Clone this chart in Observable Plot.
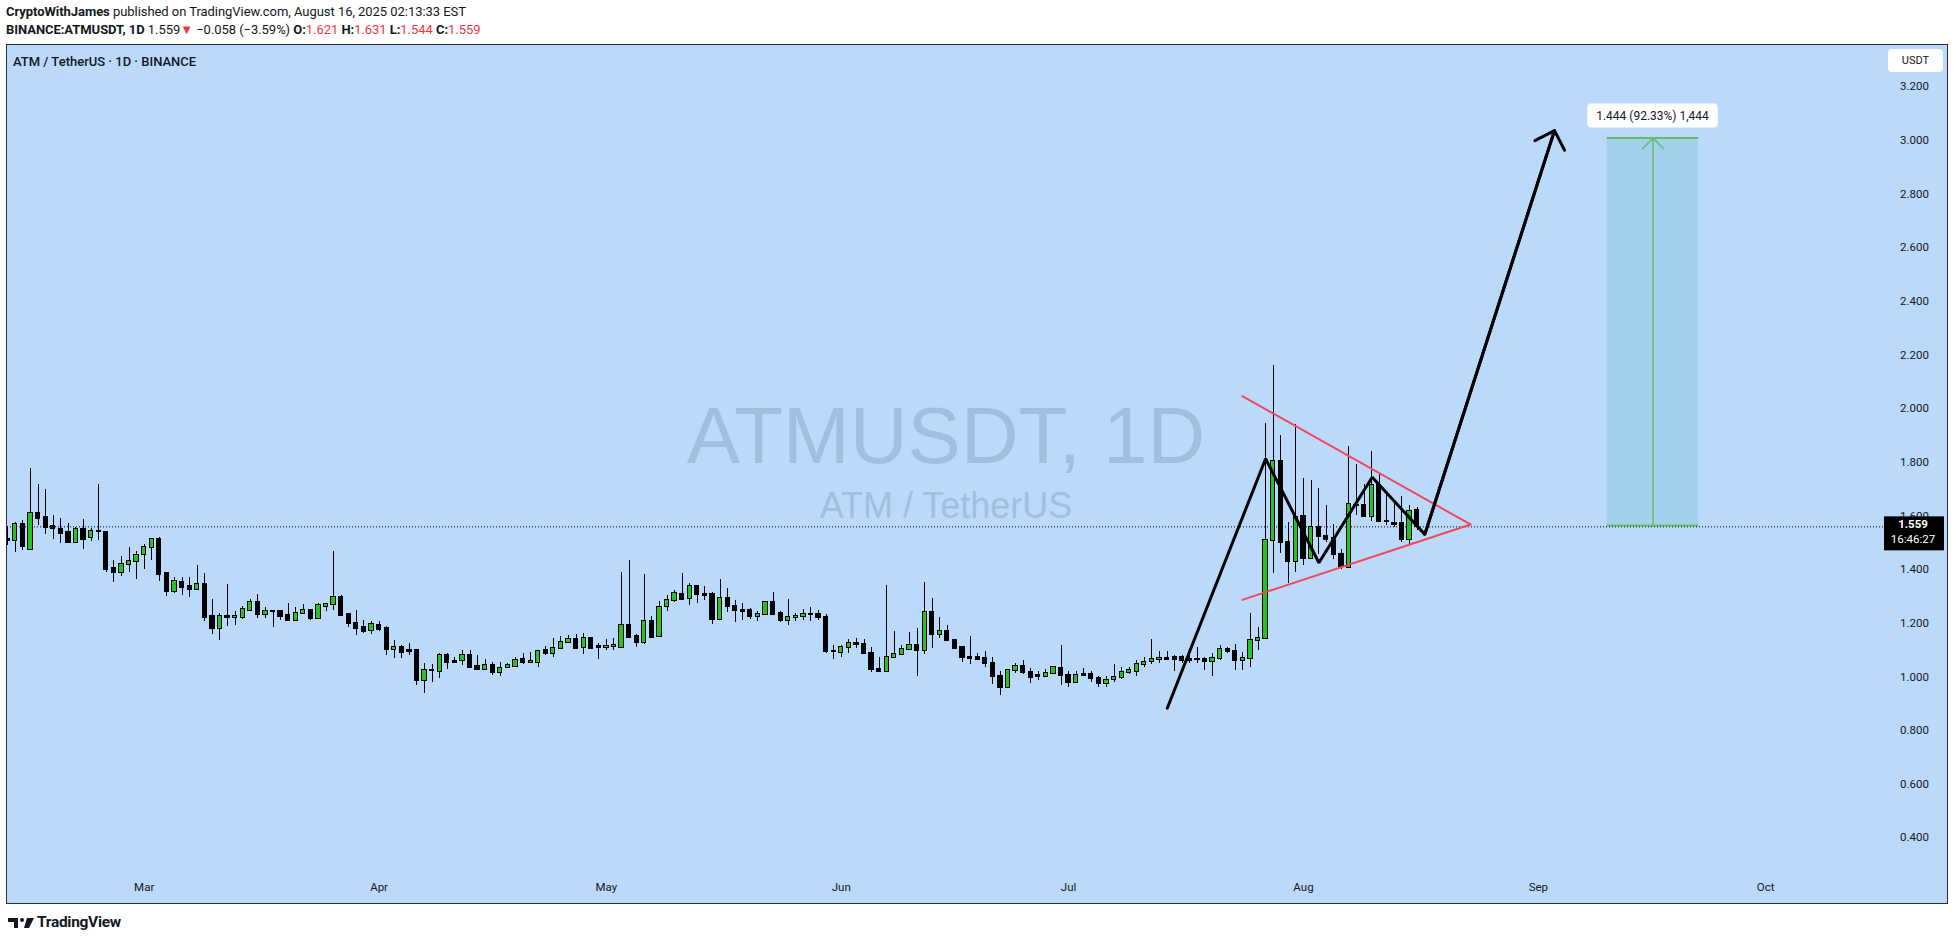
<!DOCTYPE html>
<html><head><meta charset="utf-8">
<script src="https://cdn.jsdelivr.net/npm/d3@7"></script>
<script src="https://cdn.jsdelivr.net/npm/@observablehq/plot@0.6"></script>
<style>
html,body{margin:0;padding:0;background:#fff;width:1957px;height:941px;overflow:hidden;font-family:Roboto,"Noto Sans",sans-serif;color:#131722}
.hdr{position:absolute;left:6px;font-size:13px;line-height:16px;white-space:nowrap;letter-spacing:-0.05px}
#h1{top:4px}
#h2{top:22px}
.red{color:#f23645}
#panel{position:absolute;left:6px;top:44px;width:1940px;height:858px;border:1px solid #2a2e39;background:#bbdafb}
#chart{position:absolute;left:0;top:44px}
#sym{position:absolute;left:13px;top:54px;font-size:13px;font-weight:500;letter-spacing:0px;white-space:nowrap;line-height:15px}
#foot{position:absolute;left:8px;top:914px;height:18px;white-space:nowrap}
#foot span{position:absolute;left:29px;top:-1px;font-size:15.5px;font-weight:700;letter-spacing:-0.3px;color:#131722;line-height:18px}
</style></head>
<body>
<div class="hdr" id="h1"><b>CryptoWithJames</b> published on TradingView.com, August 16, 2025 02:13:33 EST</div>
<div class="hdr" id="h2"><b>BINANCE:ATMUSDT, 1D</b> 1.559<span class="red">▼</span> −0.058 (−3.59%) <b>O:</b><span class="red">1.621</span> <b>H:</b><span class="red">1.631</span> <b>L:</b><span class="red">1.544</span> <b>C:</b><span class="red">1.559</span></div>
<div id="panel"></div>
<div id="chart"></div>
<div id="sym">ATM / TetherUS · 1D · BINANCE</div>
<div id="foot"><svg width="28" height="18" viewBox="0 0 28 18"><path d="M0 4h10v10h-4V8H0z" fill="#131722"/><circle cx="14" cy="6" r="2" fill="#131722"/><path d="M19 4h7l-5 10h-5z" fill="#131722"/></svg><span>TradingView</span></div>
<script>
// ---- Daily candles ATM/USDT, 2025-02-11 .. 2025-08-16 ----
const firstDay = "2025-02-11";
const opens = [1.511,1.507,1.567,1.476,1.608,1.593,1.559,1.548,1.537,1.502,1.548,1.518,1.542,1.538,1.402,1.390,1.418,1.429,1.455,1.481,
1.511,1.384,1.319,1.350,1.337,1.327,1.343,1.224,1.182,1.224,1.222,1.223,1.249,1.276,1.234,1.242,1.242,1.228,1.211,1.235,
1.246,1.219,1.261,1.269,1.295,1.231,1.198,1.183,1.172,1.190,1.179,1.101,1.108,1.097,1.097,0.988,1.022,1.021,1.078,1.056,
1.060,1.078,1.037,1.029,1.041,1.017,1.034,1.040,1.063,1.055,1.052,1.097,1.086,1.104,1.127,1.138,1.111,1.142,1.112,1.111,
1.112,1.111,1.190,1.149,1.127,1.205,1.149,1.261,1.283,1.306,1.291,1.336,1.306,1.306,1.215,1.291,1.261,1.246,1.246,1.224,
1.231,1.276,1.235,1.209,1.222,1.224,1.231,1.231,1.220,1.093,1.090,1.108,1.123,1.119,1.086,1.026,1.019,1.071,1.082,1.101,
1.116,1.097,1.239,1.157,1.168,1.134,1.108,1.071,1.071,1.067,1.049,1.000,0.959,1.022,1.037,1.015,1.004,1.000,1.011,1.030,
1.004,0.978,1.008,1.007,0.993,0.974,0.989,0.996,1.015,1.019,1.045,1.056,1.066,1.067,1.071,1.071,1.064,1.063,1.063,1.056,
1.067,1.101,1.093,1.060,1.067,1.134,1.142,1.507,1.801,1.500,1.429,1.596,1.440,1.555,1.522,1.514,1.455,1.406,1.637,1.637,
1.596,1.712,1.578,1.571,1.570,1.511,1.621];
const highs = [1.560,1.575,1.582,1.775,1.717,1.697,1.600,1.589,1.570,1.558,1.585,1.552,1.717,1.542,1.432,1.449,1.482,1.466,1.492,1.512,
1.518,1.385,1.369,1.369,1.369,1.414,1.384,1.287,1.235,1.343,1.242,1.261,1.287,1.306,1.257,1.246,1.246,1.272,1.257,1.269,
1.250,1.272,1.272,1.466,1.302,1.235,1.246,1.209,1.205,1.205,1.187,1.134,1.116,1.123,1.098,1.049,1.045,1.086,1.086,1.071,
1.097,1.097,1.078,1.064,1.052,1.052,1.049,1.071,1.086,1.090,1.094,1.112,1.142,1.149,1.153,1.157,1.160,1.148,1.123,1.138,
1.142,1.388,1.432,1.157,1.380,1.224,1.280,1.302,1.321,1.384,1.347,1.337,1.336,1.313,1.362,1.328,1.283,1.272,1.253,1.242,
1.280,1.313,1.242,1.287,1.235,1.250,1.257,1.246,1.231,1.116,1.116,1.138,1.142,1.138,1.108,1.071,1.339,1.168,1.116,1.164,
1.179,1.350,1.291,1.220,1.190,1.138,1.112,1.149,1.086,1.093,1.071,1.019,1.026,1.049,1.060,1.030,1.019,1.026,1.037,1.116,
1.019,1.019,1.030,1.019,1.000,1.000,1.045,1.034,1.034,1.060,1.071,1.138,1.093,1.093,1.078,1.078,1.078,1.108,1.071,1.086,
1.116,1.108,1.119,1.090,1.235,1.183,1.943,2.160,1.898,1.574,1.939,1.738,1.731,1.701,1.637,1.567,1.473,1.857,1.790,1.716,
1.839,1.757,1.682,1.645,1.671,1.637,1.631];
const lows = [1.488,1.465,1.472,1.474,1.564,1.531,1.513,1.498,1.498,1.500,1.476,1.506,1.510,1.390,1.353,1.375,1.390,1.364,1.401,1.435,
1.357,1.301,1.312,1.305,1.297,1.323,1.206,1.159,1.137,1.189,1.193,1.215,1.244,1.219,1.219,1.185,1.211,1.210,1.208,1.234,
1.211,1.218,1.245,1.249,1.229,1.185,1.155,1.163,1.159,1.170,1.081,1.070,1.070,1.081,0.969,0.936,0.977,0.995,1.029,1.052,
1.044,1.032,1.028,1.028,1.006,1.003,1.030,1.039,1.047,1.052,1.036,1.078,1.073,1.103,1.123,1.103,1.085,1.106,1.066,1.097,
1.099,1.107,1.142,1.111,1.119,1.145,1.148,1.242,1.276,1.283,1.265,1.272,1.285,1.196,1.214,1.239,1.201,1.209,1.213,1.205,
1.227,1.231,1.201,1.190,1.205,1.209,1.205,1.209,1.086,1.063,1.071,1.086,1.104,1.082,1.017,1.018,1.018,1.070,1.078,1.100,
1.003,1.082,1.104,1.142,1.130,1.103,1.055,1.047,1.060,1.036,0.973,0.932,0.958,1.011,1.007,0.976,0.985,0.996,1.007,0.969,
0.961,0.974,1.003,0.980,0.961,0.961,0.978,0.989,1.007,1.000,1.036,1.045,1.049,1.060,1.019,1.049,1.051,1.049,1.022,1.000,
1.060,1.086,1.025,1.025,1.036,1.097,1.140,1.384,1.459,1.347,1.388,1.414,1.436,1.455,1.500,1.436,1.399,1.404,1.600,1.595,
1.578,1.577,1.563,1.558,1.500,1.488,1.544];
const closes = [1.508,1.567,1.487,1.608,1.592,1.558,1.552,1.536,1.502,1.548,1.513,1.541,1.540,1.401,1.390,1.418,1.429,1.451,1.481,1.511,
1.383,1.319,1.354,1.334,1.327,1.343,1.223,1.182,1.224,1.222,1.224,1.250,1.276,1.234,1.242,1.244,1.226,1.211,1.235,1.246,
1.219,1.265,1.269,1.295,1.230,1.198,1.182,1.170,1.194,1.178,1.103,1.108,1.092,1.095,0.988,1.022,1.024,1.078,1.055,1.054,
1.078,1.036,1.029,1.041,1.017,1.030,1.041,1.060,1.055,1.057,1.093,1.086,1.104,1.127,1.138,1.107,1.142,1.107,1.110,1.113,
1.115,1.190,1.148,1.127,1.205,1.148,1.257,1.283,1.309,1.290,1.336,1.306,1.304,1.215,1.291,1.261,1.246,1.244,1.224,1.231,
1.276,1.234,1.209,1.220,1.224,1.231,1.233,1.220,1.093,1.095,1.108,1.123,1.121,1.086,1.026,1.019,1.071,1.082,1.101,1.116,
1.097,1.239,1.157,1.168,1.134,1.107,1.071,1.069,1.063,1.049,1.000,0.959,1.022,1.037,1.015,0.996,1.002,1.011,1.034,1.004,
0.978,1.004,1.006,0.993,0.974,0.985,0.996,1.015,1.022,1.045,1.052,1.063,1.068,1.065,1.063,1.060,1.062,1.065,1.056,1.067,
1.101,1.093,1.060,1.067,1.134,1.142,1.507,1.801,1.500,1.429,1.595,1.440,1.555,1.522,1.511,1.455,1.410,1.641,1.639,1.596,
1.712,1.578,1.580,1.569,1.511,1.615,1.559];

// axis labels
const priceTicks = [0.4,0.6,0.8,1.0,1.2,1.4,1.6,1.8,2.0,2.2,2.4,2.6,2.8,3.0,3.2];
const monthDates = ["2025-03-01","2025-04-01","2025-05-01","2025-06-01","2025-07-01","2025-08-01","2025-09-01","2025-10-01"];
const monthLabels = ["Mar","Apr","May","Jun","Jul","Aug","Sep","Oct"];
const lastPrice = 1.559;
const countdown = "16:46:27";

// drawings
const triUpper = [{t:"2025-07-23T22:30Z", p:2.046},{t:"2025-08-23T01:00Z", p:1.568}];
const triLower = [{t:"2025-07-23T22:30Z", p:1.287},{t:"2025-08-23T01:00Z", p:1.568}];
const zigzag = [
  {t:"2025-07-14T00:30Z", p:0.883},
  {t:"2025-07-27T00:00Z", p:1.813},
  {t:"2025-08-03T00:45Z", p:1.425},
  {t:"2025-08-10T01:40Z", p:1.744},
  {t:"2025-08-17T00:15Z", p:1.531},
  {t:"2025-09-03T03:00Z", p:3.036}
];
const rangeStart = "2025-09-10T02:10Z", rangeEnd = "2025-09-22T04:05Z", rangeMid = "2025-09-16T03:07Z";
const rangeLow = 1.564, rangeHigh = 3.008;
const rangeText = "1.444 (92.33%) 1,444";

const DAY = 864e5;
const t0 = new Date(firstDay + "T00:00Z");
const candles = opens.map((o, i) => ({date: new Date(+t0 + i * DAY), open: o, high: highs[i], low: lows[i], close: closes[i]}));
const up = candles.filter(d => d.close >= d.open);
const down = candles.filter(d => d.close < d.open);
const T = s => new Date(s);
const half = 0.28 * DAY;

const GREEN = "#22c322", INK = "#131722", RED = "#f44758", RG = "#66bb6a";

const bodyOpts = (fill) => ({
  x1: d => new Date(+d.date - half), x2: d => new Date(+d.date + half),
  y1: "open", y2: "close", fill, stroke: "#000", strokeWidth: 1,
  insetTop: -0.5, insetBottom: -0.5, clip: true, shapeRendering: "crispEdges"
});

const chart = Plot.plot({
  width: 1957, height: 860,
  marginLeft: 7, marginRight: 73, marginTop: 1, marginBottom: 28,
  style: {background: "transparent", fontFamily: "Roboto, sans-serif", fontSize: "11.5px", overflow: "visible"},
  x: {type: "utc", domain: [t0, T("2025-10-01T00:00Z")], range: [7.3, 1765.2], axis: null},
  y: {domain: [0.4, 3.2], range: [793.3, 42.1], axis: null},
  marks: [
    // watermark
    Plot.text(["ATMUSDT, 1D"], {text: d => d, frameAnchor: "middle", dy: -24, fontSize: 80, fontFamily: "'Liberation Sans', Arial, sans-serif", fill: "#a4bfdd"}),
    Plot.text(["ATM / TetherUS"], {text: d => d, frameAnchor: "middle", dy: 45, fontSize: 36, fontFamily: "'Liberation Sans', Arial, sans-serif", fill: "#a4bfdd"}),
    // range measurement
    Plot.rect([0], {x1: () => T(rangeStart), x2: () => T(rangeEnd), y1: () => rangeLow, y2: () => rangeHigh, fill: "#a3d1ec"}),
    Plot.ruleY([rangeLow, rangeHigh], {y: d => d, x1: () => T(rangeStart), x2: () => T(rangeEnd), stroke: RG, strokeWidth: 2}),
    Plot.arrow([0], {x1: () => T(rangeMid), x2: () => T(rangeMid), y1: () => rangeLow, y2: () => rangeHigh, stroke: RG, strokeWidth: 1.5, headAngle: 90, headLength: 15}),
    // price line
    Plot.ruleY([lastPrice], {stroke: "#000", strokeWidth: 1, strokeDasharray: "1 2"}),
    // candles
    Plot.ruleX(candles, {x: "date", y1: "low", y2: "high", stroke: "#000", strokeWidth: 1, clip: true, shapeRendering: "crispEdges"}),
    Plot.rect(up, bodyOpts(GREEN)),
    Plot.rect(down, bodyOpts("#000")),
    // triangle
    Plot.line(triUpper, {x: d => T(d.t), y: "p", stroke: RED, strokeWidth: 2}),
    Plot.line(triLower, {x: d => T(d.t), y: "p", stroke: RED, strokeWidth: 2}),
    // zigzag path with arrow
    Plot.line(zigzag, {x: d => T(d.t), y: "p", stroke: "#000", strokeWidth: 3, strokeLinejoin: "miter"}),
    Plot.arrow([0], {x1: () => T(zigzag[4].t), y1: () => zigzag[4].p, x2: () => T(zigzag[5].t), y2: () => zigzag[5].p, stroke: "#000", strokeWidth: 3, headAngle: 90, headLength: 11}),
    // axes
    Plot.text(priceTicks, {y: d => d, text: d => d.toFixed(3), frameAnchor: "right", dx: 30, textAnchor: "middle", fill: INK}),
    Plot.text(monthDates, {x: d => T(d + "T00:00Z"), text: (d, i) => monthLabels[i], frameAnchor: "bottom", dy: 14, fill: INK})
  ]
});
document.getElementById("chart").appendChild(chart);

// overlays sized from the chart's own scales
const svg = d3.select(chart);
const xs = chart.scale("x"), ys = chart.scale("y");
const ov = svg.append("g");
// range label
{
  const cx = xs.apply(T(rangeMid)), cy = ys.apply(rangeHigh) - 22;
  const g = ov.append("g");
  const r = g.append("rect").attr("fill", "#fff").attr("rx", 4);
  const tx = g.append("text").attr("x", cx).attr("y", cy).attr("dy", "0.35em").attr("text-anchor", "middle")
    .attr("fill", INK).style("font-size", "12px").style("font-family", "Roboto, sans-serif").text(rangeText);
  const w = tx.node().getComputedTextLength() + 18;
  r.attr("x", cx - w / 2).attr("y", cy - 12).attr("width", w).attr("height", 24);
}
// USDT box
{
  const g = ov.append("g");
  g.append("rect").attr("x", 1888).attr("y", 5).attr("width", 55).attr("height", 23).attr("rx", 4).attr("fill", "#fff");
  g.append("text").attr("x", 1915.5).attr("y", 16.5).attr("dy", "0.35em").attr("text-anchor", "middle").attr("fill", INK)
    .style("font-size", "11px").style("font-family", "Roboto, sans-serif").text("USDT");
}
// last price label
{
  const py = ys.apply(lastPrice);
  const g = ov.append("g");
  g.append("rect").attr("x", 1884).attr("y", py - 10).attr("width", 60).attr("height", 34).attr("fill", "#000");
  g.append("text").attr("x", 1913).attr("y", py - 2).attr("dy", "0.35em").attr("text-anchor", "middle").attr("fill", "#fff")
    .style("font-size", "11.5px").style("font-weight", "700").style("font-family", "Roboto, sans-serif").text(lastPrice.toFixed(3));
  g.append("text").attr("x", 1913).attr("y", py + 13).attr("dy", "0.35em").attr("text-anchor", "middle").attr("fill", "#fff")
    .style("font-size", "11.5px").style("font-family", "Roboto, sans-serif").text(countdown);
}
</script>
</body></html>
